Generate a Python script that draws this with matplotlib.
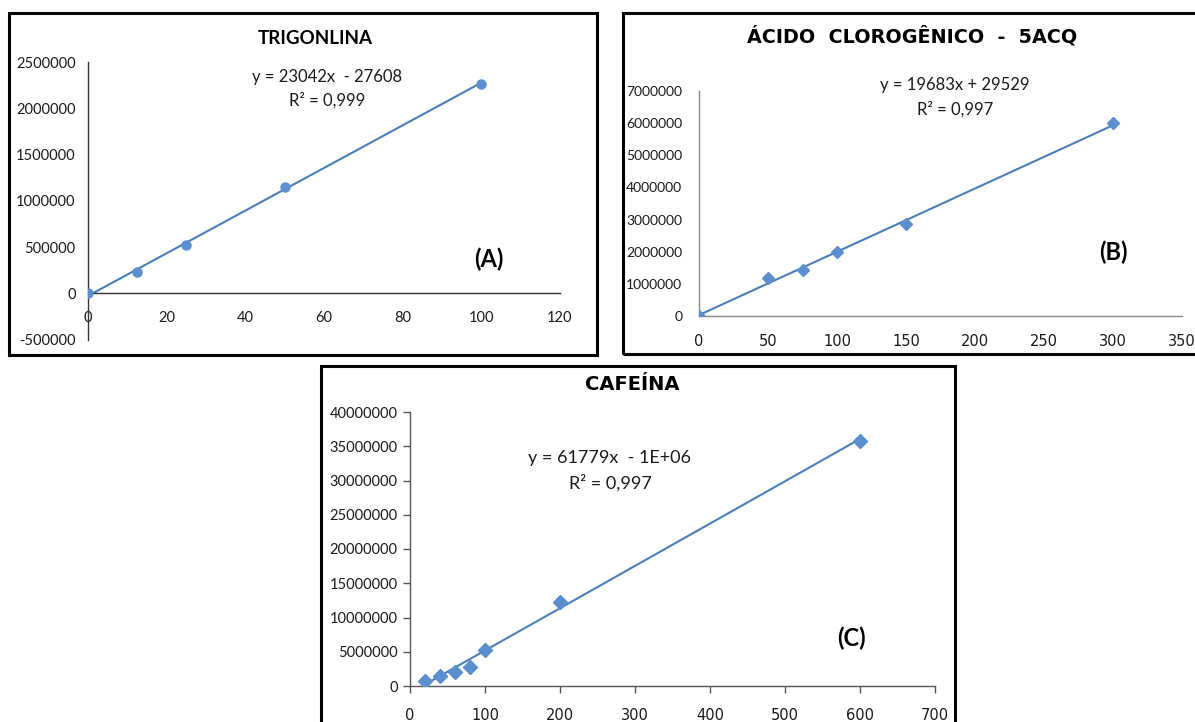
import matplotlib.pyplot as plt
from matplotlib.patches import Rectangle
import numpy as np

# data
trig_x = [0, 12.5, 25, 50, 100]
trig_y = [0, 227000, 520000, 1150000, 2260000]
trig_fit = (23042, -27608)

acq_x = [0, 50, 75, 100, 150, 300]
acq_y = [0, 1180000, 1430000, 2000000, 2870000, 5990000]
acq_fit = (19683, 29529)

caf_x = [20, 40, 60, 80, 100, 200, 600]
caf_y = [800000, 1500000, 2000000, 2800000, 5200000, 12200000, 35800000]
caf_fit = (61779, -1000000)

W, H = 1195, 722
blue = '#4a7ebb'
mk = '#5b8fd0'
txt = '#1a1a1a'

fig = plt.figure(figsize=(W / 100, H / 100), dpi=100)


def rect(x0, y0, x1, y1):
    # pixel box -> figure fraction [left, bottom, width, height]
    return [x0 / W, 1 - y1 / H, (x1 - x0) / W, (y1 - y0) / H]


def frame(x0, y0, x1, y1):
    fig.patches.append(Rectangle((x0 / W, 1 - y1 / H), (x1 - x0) / W, (y1 - y0) / H,
                                 transform=fig.transFigure, fill=False,
                                 edgecolor='black', linewidth=2.2))


def ftext(x, y, s, **kw):
    fig.text(x / W, 1 - y / H, s, ha='center', va='center', **kw)


# frames around each panel
frame(9, 13, 597, 355)
frame(623, 13, 1200, 354)
frame(321, 366, 955, 730)

# ---- (A) trigonelline
ax = fig.add_axes(rect(88, 62, 560, 339.6))
ax.plot(trig_x, trig_y, 'o', color=mk, markersize=6.5, zorder=3)
fx = np.array([min(trig_x), max(trig_x)])
ax.plot(fx, trig_fit[0] * fx + trig_fit[1], color=blue, lw=1.5)
ax.set_xlim(0, 120)
ax.set_ylim(-500000, 2500000)
ax.set_xticks(range(0, 121, 20))
ax.set_yticks(range(-500000, 2500001, 500000))
ax.set_yticklabels([str(v) for v in range(-500000, 2500001, 500000)])
ax.spines['bottom'].set_position(('data', 0))
ax.spines['top'].set_visible(False)
ax.spines['right'].set_visible(False)
for s in ['left', 'bottom']:
    ax.spines[s].set_color('#333333')
    ax.spines[s].set_linewidth(1.0)
ax.tick_params(axis='both', length=0, labelcolor=txt)
ax.tick_params(axis='x', pad=13)
ax.tick_params(axis='y', pad=9)
for lab in ax.get_xticklabels() + ax.get_yticklabels():
    lab.set_fontfamily('Lato')
    lab.set_fontsize(10.5)
ftext(315, 39, 'TRIGONLINA', fontfamily='Lato', fontweight='bold', fontsize=13.5)
ftext(327, 77, 'y = 23042x  - 27608', fontfamily='Lato', fontsize=12, color=txt)
ftext(327, 100, 'R² = 0,999', fontfamily='Lato', fontsize=12, color=txt)
ftext(489, 259, '(A)', fontfamily='Lato', fontweight='bold', fontsize=17)

# ---- (B) chlorogenic acid
ax = fig.add_axes(rect(699, 91, 1182, 316))
ax.plot(acq_x, acq_y, 'D', color=mk, markersize=6.5, zorder=3)
fx = np.array([min(acq_x), max(acq_x)])
ax.plot(fx, acq_fit[0] * fx + acq_fit[1], color=blue, lw=1.5)
ax.set_xlim(0, 350)
ax.set_ylim(0, 7000000)
ax.set_xticks(range(0, 351, 50))
ax.set_yticks(range(0, 7000001, 1000000))
ax.set_yticklabels([str(v) for v in range(0, 7000001, 1000000)])
ax.spines['top'].set_visible(False)
ax.spines['right'].set_visible(False)
for s in ['left', 'bottom']:
    ax.spines[s].set_color('#888888')
    ax.spines[s].set_linewidth(1.0)
ax.tick_params(axis='both', length=0, labelcolor=txt)
ax.tick_params(axis='x', pad=13)
ax.tick_params(axis='y', pad=12)
for lab in ax.get_xticklabels():
    lab.set_fontfamily('DejaVu Sans')
    lab.set_fontsize(10.5)
for lab in ax.get_yticklabels():
    lab.set_fontfamily('Lato')
    lab.set_fontsize(10)
ftext(912, 36, 'ÁCIDO  CLOROGÊNICO  -  5ACQ', fontfamily='DejaVu Sans',
      fontweight='bold', fontsize=13.8)
ftext(955, 85, 'y = 19683x + 29529', fontfamily='Lato', fontsize=12, color=txt)
ftext(955, 109, 'R² = 0,997', fontfamily='Lato', fontsize=12, color=txt)
ftext(1113, 252, '(B)', fontfamily='Lato', fontweight='bold', fontsize=17)

# ---- (C) caffeine
ax = fig.add_axes(rect(410, 412, 935, 686))
ax.plot(caf_x, caf_y, 'D', color=mk, markersize=7.5, zorder=3)
fx = np.array([min(caf_x), max(caf_x)])
ax.plot(fx, caf_fit[0] * fx + caf_fit[1], color=blue, lw=1.5)
ax.set_xlim(0, 700)
ax.set_ylim(0, 40000000)
ax.set_xticks(range(0, 701, 100))
ax.set_yticks(range(0, 40000001, 5000000))
ax.set_yticklabels([str(v) for v in range(0, 40000001, 5000000)])
ax.spines['top'].set_visible(False)
ax.spines['right'].set_visible(False)
for s in ['left', 'bottom']:
    ax.spines[s].set_color('#555555')
    ax.spines[s].set_linewidth(1.0)
ax.tick_params(axis='both', length=5, width=1, color='#555555', labelcolor=txt)
ax.tick_params(axis='x', pad=11)
ax.tick_params(axis='y', pad=4)
for lab in ax.get_xticklabels():
    lab.set_fontfamily('DejaVu Sans')
    lab.set_fontsize(10.5)
for lab in ax.get_yticklabels():
    lab.set_fontfamily('Lato')
    lab.set_fontsize(10.5)
ftext(632, 384, 'CAFEÍNA', fontfamily='DejaVu Sans', fontweight='bold', fontsize=14)
ftext(610, 458, 'y = 61779x  - 1E+06', fontfamily='Lato', fontsize=13, color=txt)
ftext(610, 483, 'R² = 0,997', fontfamily='Lato', fontsize=13, color=txt)
ftext(851, 638, '(C)', fontfamily='Lato', fontweight='bold', fontsize=17)

fig.savefig('out.png', dpi=100)
